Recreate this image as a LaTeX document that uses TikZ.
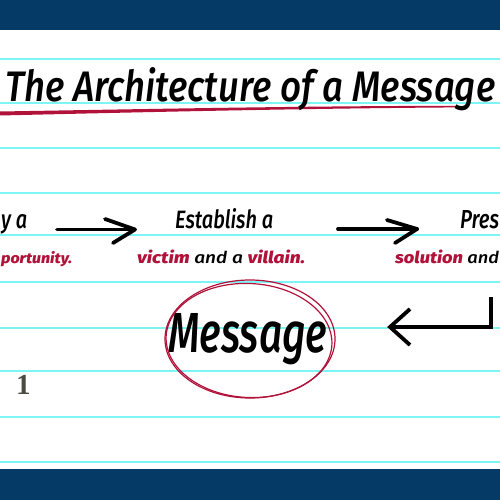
\documentclass[tikz,border=0pt]{standalone}
\usepackage{fontspec}
\usepackage{graphicx}
\setmainfont{Fira Sans}
\newfontfamily\scr{Fira Sans}[UprightFont=* Medium Italic, BoldFont=* ExtraBold Italic]
\newfontfamily\numfont{Liberation Serif}[UprightFont=* Bold]
\definecolor{bandblue}{RGB}{6,58,102}
\definecolor{ruledcyan}{RGB}{125,245,245}
\definecolor{brushred}{RGB}{176,18,58}
\definecolor{numgray}{RGB}{75,75,68}
\newcommand\fbold[1]{\textcolor{brushred}{\bfseries #1}}
\tikzset{
  ruled/.style={draw=ruledcyan, line width=1.1pt},
  txt/.style={inner sep=0pt, font=\scr, text=black},
  redtxt/.style={inner sep=0pt, font=\scr, text=brushred},
  brush/.style={draw=black, line width=3.8pt, line cap=round, line join=round},
  retarrow/.style={draw=black, line width=3.8pt, line cap=butt, line join=miter},
  oval/.style={draw=brushred, line width=1.2pt}
}
\begin{document}
\begin{tikzpicture}[x=1pt,y=-1pt]
\useasboundingbox (0,0) rectangle (500,500);
% bands
\fill[bandblue] (0,0) rectangle (500,30);
\fill[bandblue] (0,469) rectangle (500,500);
% ruled lines
\foreach \yy in {59,103,148,193,235,282,328,371,417,462}
  \draw[ruled] (0,\yy) -- (500,\yy);
% title underline brush
\fill[brushred] (0,111.5) .. controls (150,109) and (300,106) .. (457,105.8)
  -- (457,107.4) .. controls (300,108.5) and (150,112) .. (0,115.5) -- cycle;
% title
\node[txt, anchor=base west] (title) at (5,102) {\resizebox{490pt}{34pt}{The Architecture of a Message}};
% row 1
\node[txt, anchor=base west] (s1a) at (1,228) {\resizebox{26pt}{14pt}{y a}};
\node[txt, anchor=base west] (s2a) at (175,228) {\resizebox{98pt}{20pt}{Establish a}};
\node[txt, anchor=base west] (s3a) at (460,228) {\resizebox{39pt}{18pt}{Pres}};
% row 2
\node[redtxt, anchor=base west] (s1b) at (1,263) {\resizebox{71pt}{12pt}{\fbold{portunity.}}};
\node[txt, anchor=base west] (s2b) at (137,263) {\resizebox{168pt}{13.5pt}{\fbold{victim} and a \fbold{villain.}}};
\node[txt, anchor=base west] (s3b) at (395,263) {\resizebox{104pt}{13.5pt}{\fbold{solution} and}};
% message
\node[txt, anchor=base west] (msg) at (168,352) {\resizebox{159pt}{39pt}{Message}};
\draw[oval] (250,339) ellipse [x radius=85, y radius=59];
\draw[oval] (249,340.5) ellipse [x radius=83, y radius=57, rotate=-3];
% step number
\node[inner sep=0pt, anchor=base west, text=numgray, font=\numfont\fontsize{29}{30}\selectfont] (num) at (16,394) {1};
% arrows
\coordinate (a1s) at (57,229.5);
\coordinate (a1t) at (135,229.5);
\coordinate (a1u) at (105,219);
\coordinate (a1d) at (113,243);
\draw[brush] (a1s) -- (a1t);
\draw[brush] (a1u) -- (a1t) -- (a1d);
\coordinate (a2s) at (338,229);
\coordinate (a2t) at (417,229);
\coordinate (a2u) at (387,220);
\coordinate (a2d) at (395,243);
\draw[brush] (a2s) -- (a2t);
\draw[brush] (a2u) -- (a2t) -- (a2d);
% return arrow
\coordinate (r1) at (491,297);
\coordinate (r2) at (491,327);
\coordinate (r3) at (390,327);
\draw[retarrow] (r1) -- (r2) -- (r3);
\draw[retarrow] (410,309) -- (r3) -- (410,345);
\end{tikzpicture}
\end{document}
